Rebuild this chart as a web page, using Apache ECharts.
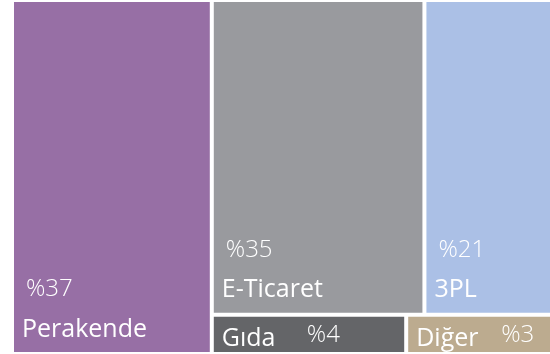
<!DOCTYPE html>
<html>
<head>
<meta charset="utf-8">
<script src="https://cdn.jsdelivr.net/npm/echarts@6/dist/echarts.min.js"></script>
<style>
html, body { margin: 0; padding: 0; background: #ffffff; }
#chart { width: 550px; height: 354px; }
</style>
</head>
<body>
<div id="chart"></div>
<script>
// ---- data ----
const categories = ['Perakende', 'E-Ticaret', '3PL', 'Gıda', 'Diğer'];
const shares = [37, 35, 21, 4, 3];          // % share labels
const tileColors = ['#976fa5', '#999a9e', '#abc0e6', '#646568', '#bcab8f'];

const FONT = "'Open Sans', 'Noto Sans', sans-serif";

function leaf(i) {
  return { name: categories[i], value: shares[i], itemStyle: { color: tileColors[i] } };
}
// first category gets its own column, the rest share the remaining block
const treeData = [
  leaf(0),
  { name: '', itemStyle: { borderWidth: 0, color: '#ffffff' }, children: [1, 2, 3, 4].map(leaf) }
];

const chart = echarts.init(document.getElementById('chart'), null, { renderer: 'canvas' });
chart.setOption({
  animation: false,
  tooltip: { show: false },
  series: [{
    type: 'treemap',
    left: 12, top: 0, width: 540, height: 354,
    roam: false,
    nodeClick: false,
    sort: false,
    squareRatio: 1.3,
    breadcrumb: { show: false },
    itemStyle: { borderColor: '#ffffff', borderWidth: 2, gapWidth: 0 },
    levels: [
      { itemStyle: { borderWidth: 0, gapWidth: 0 } },
      { itemStyle: { borderWidth: 2, gapWidth: 0 } },
      { itemStyle: { borderWidth: 2, gapWidth: 0 } }
    ],
    label: {
      show: true,
      position: 'insideTopLeft',
      distance: 0,
      padding: [0, 0, 0, 8],
      align: 'left',
      verticalAlign: 'top',
      formatter: function (p) {
        const pct = '%' + p.value;
        if (p.value >= 10) {
          return '{p|' + pct + '}\n{n|' + p.name + '}';
        }
        return '{s|' + p.name + '}{q|' + pct + '}';
      },
      rich: {
        p: { fontFamily: FONT, fontSize: 24, fontWeight: 300, color: '#ffffff', lineHeight: 51, padding: [0, 0, 0, 4] },
        n: { fontFamily: FONT, fontSize: 25, color: '#ffffff', lineHeight: 30 },
        s: { fontFamily: FONT, fontSize: 25, color: '#ffffff', lineHeight: 30, width: 85 },
        q: { fontFamily: FONT, fontSize: 24, fontWeight: 300, color: '#ffffff', lineHeight: 24, verticalAlign: 'top' }
      }
    },
    labelLayout: function (p) {
      const twoLine = p.text && p.text.indexOf('\n') >= 0;
      const block = twoLine ? 88.5 : 28.5;
      return { dy: p.rect.height - block };
    },
    data: treeData
  }]
});
</script>
</body>
</html>
